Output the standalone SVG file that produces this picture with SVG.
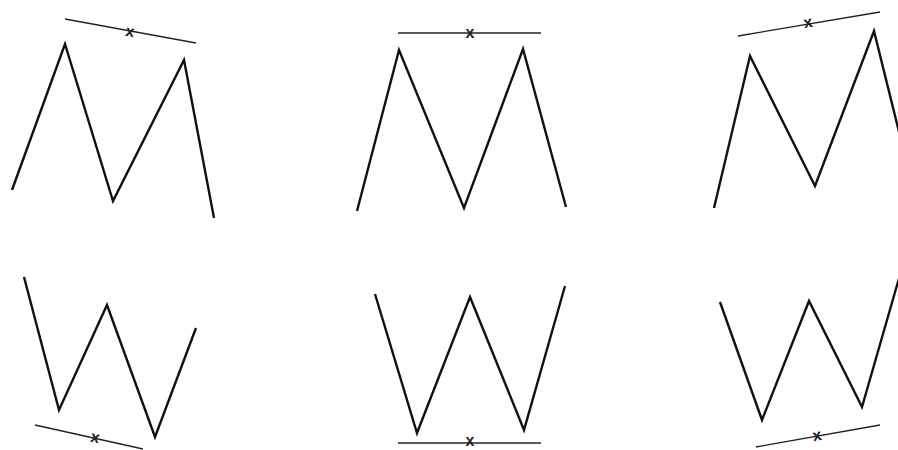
<svg xmlns="http://www.w3.org/2000/svg" width="898" height="450" viewBox="0 0 898 450">
<style>
.zig{fill:none;stroke:#111;stroke-width:2.4;stroke-linejoin:miter;stroke-linecap:butt}
.ref{fill:none;stroke:#222;stroke-width:1.3}
.mk{font-family:"Liberation Sans",Arial,sans-serif;font-size:16px;font-weight:bold;fill:#222;text-anchor:middle}
</style>
<rect width="898" height="450" fill="#fff"/>
<g id="m1">
<polyline class="zig" points="12,190 65,44 113,201 184,60 214,218"/>
<line class="ref" x1="65" y1="19" x2="196" y2="43"/>
<text class="mk" x="130" y="36.5" transform="rotate(10 130 32)">x</text>
</g>
<g id="m2">
<polyline class="zig" points="357,211 399,50 464,208 523,49 566,207"/>
<line class="ref" x1="398" y1="33" x2="541" y2="33"/>
<text class="mk" x="470" y="37.5">x</text>
</g>
<g id="m3">
<polyline class="zig" points="714,208 750,56 815,186 874,31 906,160"/>
<line class="ref" x1="738" y1="36" x2="880" y2="12"/>
<text class="mk" x="808" y="27.5" transform="rotate(-10 808 23)">x</text>
</g>
<g id="w1">
<polyline class="zig" points="24,277 59,410 107,305 155,437 196,328"/>
<line class="ref" x1="35" y1="425" x2="143" y2="449"/>
<text class="mk" x="95" y="442.5" transform="rotate(12 95 438)">x</text>
</g>
<g id="w2">
<polyline class="zig" points="375,294 417,433 470,297 524,430 565,286"/>
<line class="ref" x1="398" y1="443" x2="541" y2="443"/>
<text class="mk" x="470" y="446">x</text>
</g>
<g id="w3">
<polyline class="zig" points="720,302 762,420 809,301 862,407 910,240"/>
<line class="ref" x1="756" y1="447" x2="880" y2="425"/>
<text class="mk" x="817" y="440.5" transform="rotate(-10 817 436)">x</text>
</g>
</svg>
